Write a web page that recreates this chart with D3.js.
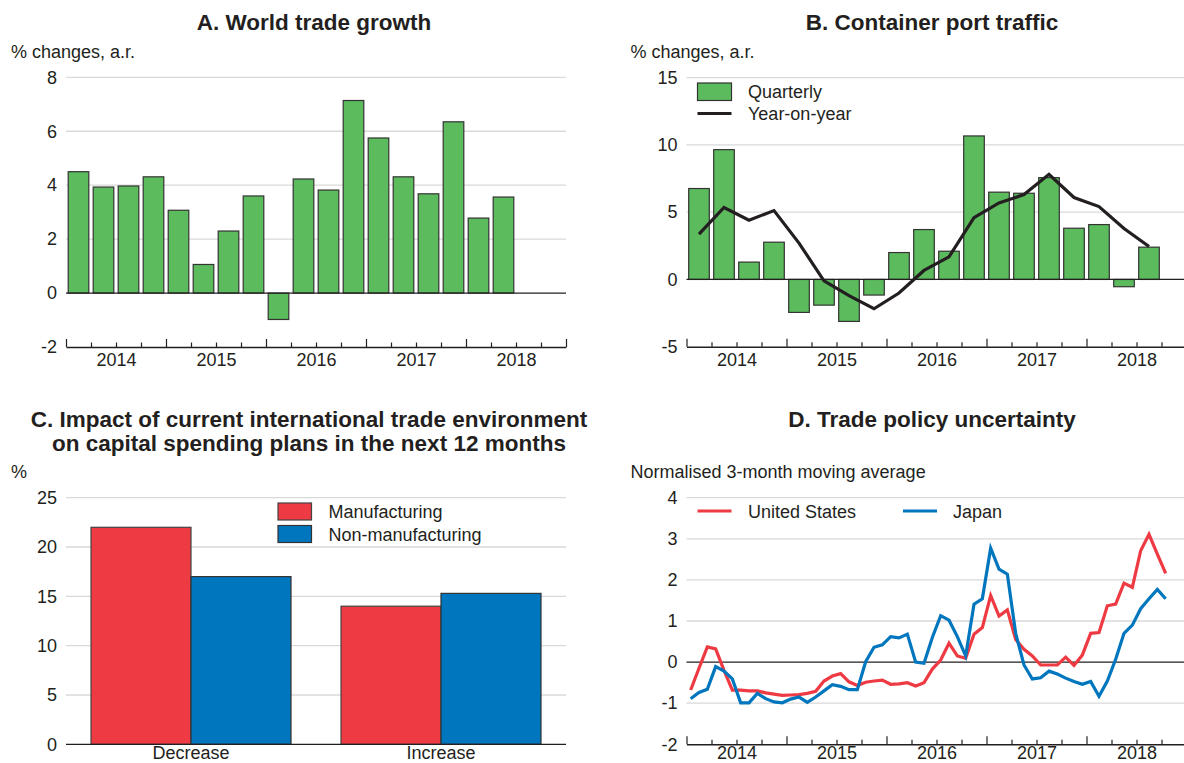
<!DOCTYPE html>
<html>
<head>
<meta charset="utf-8">
<script src="https://cdn.jsdelivr.net/npm/d3@7"></script>
<style>
  body { margin: 0; background: #fff; }
  svg { display: block; font-family: "Liberation Sans", Arial, Helvetica, sans-serif; }
  .title { font-weight: bold; font-size: 22.5px; fill: #231f20; }
  .lbl { font-size: 18px; fill: #231f20; }
  .tick text { font-size: 18px; fill: #231f20; }
</style>
</head>
<body>
<svg id="chart" width="1184" height="763"></svg>
<script>
// panel A - world trade growth, quarterly, from 2014Q1
var tradeGrowth = [4.50, 3.93, 3.97, 4.31, 3.07, 1.06, 2.30, 3.60, -0.98, 4.23, 3.82, 7.14, 5.75, 4.31, 3.68, 6.35, 2.78, 3.56];

// panel B - container port traffic, from 2014Q1
var portQuarterly = [6.76, 9.65, 1.29, 2.77, -2.45, -1.91, -3.12, -1.16, 2.00, 3.71, 2.10, 10.67, 6.49, 6.41, 7.57, 3.81, 4.08, -0.54, 2.40];
var portYoY = [3.37, 5.35, 4.41, 5.12, 2.70, -0.10, -1.21, -2.18, -1.01, 0.67, 1.68, 4.60, 5.69, 6.31, 7.82, 6.09, 5.42, 3.79, 2.45];

// panel C - survey
var spendCategories = ["Decrease", "Increase"];
var manufacturing = [22, 14];
var nonManufacturing = [17, 15.3];

// panel D - trade policy uncertainty, monthly from Jan 2014
var usUncertainty = [-0.68, -0.15, 0.37, 0.32, -0.20, -0.68, -0.68, -0.70, -0.70, -0.75, -0.78, -0.81,
  -0.80, -0.79, -0.76, -0.71, -0.46, -0.34, -0.28, -0.48, -0.57, -0.49, -0.46, -0.44,
  -0.54, -0.53, -0.50, -0.58, -0.50, -0.17, 0.05, 0.46, 0.15, 0.09, 0.68, 0.84,
  1.62, 1.12, 1.27, 0.55, 0.31, 0.15, -0.07, -0.07, -0.07, 0.12, -0.08, 0.17,
  0.70, 0.72, 1.37, 1.41, 1.92, 1.82, 2.71, 3.11, 2.63, 2.16];
var jpUncertainty = [-0.89, -0.74, -0.66, -0.11, -0.22, -0.41, -0.99, -0.99, -0.76, -0.89, -0.97, -0.99,
  -0.90, -0.85, -0.98, -0.85, -0.70, -0.55, -0.59, -0.67, -0.67, 0.01, 0.36, 0.42,
  0.62, 0.59, 0.68, 0.00, -0.03, 0.60, 1.13, 1.02, 0.62, 0.15, 1.41, 1.54,
  2.77, 2.26, 2.14, 0.70, -0.07, -0.41, -0.38, -0.22, -0.29, -0.39, -0.47, -0.54,
  -0.47, -0.83, -0.46, 0.07, 0.70, 0.90, 1.30, 1.54, 1.77, 1.54];

var years = [2014, 2015, 2016, 2017, 2018];
var yTicksA = [-2, 0, 2, 4, 6, 8];
var yTicksB = [-5, 0, 5, 10, 15];
var yTicksC = [0, 5, 10, 15, 20, 25];
var yTicksD = [-2, -1, 0, 1, 2, 3, 4];

var green = "#5cbb5c",
    red = "#ee3a43",
    blue = "#0076be",
    ink = "#231f20",
    grid = "#d9d9d9";

var svg = d3.select("#chart");

var addText = function(x, y, txt, cls, anchor) {
  return svg.append("text").attr("x", x).attr("y", y).attr("class", cls)
    .attr("text-anchor", anchor || "start").text(txt);
};

// gridlines + left labels
var drawYAxis = function(y, ticks, x0, x1, baseVal) {
  var g = svg.append("g");
  g.selectAll("line.grid").data(ticks.filter(function(t) { return t !== baseVal && t !== ticks[0]; }))
    .enter().append("line")
    .attr("x1", x0).attr("x2", x1)
    .attr("y1", function(d) { return y(d); }).attr("y2", function(d) { return y(d); })
    .attr("stroke", grid).attr("stroke-width", 1.3);
  var ax = svg.append("g").attr("transform", "translate(" + (x0 - 9) + ",0)")
    .call(d3.axisLeft(y).tickValues(ticks).tickSize(0).tickPadding(0).tickFormat(String));
  ax.select(".domain").remove();
};

// time axis with quarter ticks pointing up
var drawTimeAxis = function(x, yPos, pad) {
  var quarters = [];
  for (var t = 2014; t <= 2019.001; t += 0.25) quarters.push(t);
  var g = svg.append("g").attr("transform", "translate(0," + yPos + ")");
  g.call(d3.axisBottom(x).tickValues(quarters.filter(function(q) { return q % 1 !== 0; }))
      .tickSize(-4.5).tickSizeOuter(0).tickFormat(""));
  g.select(".domain").attr("stroke", ink).attr("stroke-width", 1.4);
  g.selectAll(".tick line").attr("stroke", ink).attr("stroke-width", 1.2);
  var g2 = svg.append("g").attr("transform", "translate(0," + yPos + ")");
  g2.call(d3.axisBottom(x).tickValues([2014, 2015, 2016, 2017, 2018, 2019])
      .tickSize(-8).tickFormat(""));
  g2.select(".domain").remove();
  g2.selectAll(".tick line").attr("stroke", ink).attr("stroke-width", 1.2);
  var g3 = svg.append("g").attr("transform", "translate(0," + yPos + ")");
  g3.call(d3.axisBottom(x).tickValues(years.map(function(yr) { return yr + 0.5; }))
      .tickSize(0).tickPadding(pad).tickFormat(function(d) { return Math.floor(d); }));
  g3.select(".domain").remove();
};

var zeroLine = function(x, y) {
  svg.append("line").attr("x1", x.range()[0]).attr("x2", x.range()[1])
    .attr("y1", y(0)).attr("y2", y(0)).attr("stroke", ink).attr("stroke-width", 1.3);
};

var drawBars = function(x, y, vals, fill) {
  var bw = 20.6;
  svg.append("g").selectAll("rect").data(vals).enter().append("rect")
    .attr("x", function(d, i) { return x(2014 + (i + 0.5) / 4) - bw / 2; })
    .attr("y", function(d) { return y(Math.max(0, d)); })
    .attr("width", bw)
    .attr("height", function(d) { return Math.abs(y(d) - y(0)); })
    .attr("fill", fill).attr("stroke", "#333").attr("stroke-width", 1.2);
};

// ---- A
var xA = d3.scaleLinear().domain([2014, 2019]).range([66, 566]);
var yA = d3.scaleLinear().domain([-2, 8]).range([347, 77.3]);
addText(314, 30, "A. World trade growth", "title", "middle");
addText(11, 58, "% changes, a.r.", "lbl");
drawYAxis(yA, yTicksA, 66, 566, 0);
drawBars(xA, yA, tradeGrowth, green);
zeroLine(xA, yA);
drawTimeAxis(xA, yA(-2), 6.5);

// ---- B
var xB = d3.scaleLinear().domain([2014, 2019]).range([686.5, 1186.5]);
var yB = d3.scaleLinear().domain([-5, 15]).range([346.7, 77.7]);
addText(932, 30, "B. Container port traffic", "title", "middle");
addText(630.5, 58, "% changes, a.r.", "lbl");
drawYAxis(yB, yTicksB, 686.5, 1186.5, 0);
drawBars(xB, yB, portQuarterly, green);
zeroLine(xB, yB);
svg.append("path").datum(portYoY)
  .attr("fill", "none").attr("stroke", ink).attr("stroke-width", 3.2)
  .attr("d", d3.line()
    .x(function(d, i) { return xB(2014 + (i + 0.5) / 4); })
    .y(function(d) { return yB(d); }));
drawTimeAxis(xB, yB(-5), 6.5);
svg.append("rect").attr("x", 697.5).attr("y", 83).attr("width", 34).attr("height", 17.5)
  .attr("fill", green).attr("stroke", "#333").attr("stroke-width", 1.2);
addText(748, 98, "Quarterly", "lbl");
svg.append("line").attr("x1", 697.5).attr("x2", 731.5).attr("y1", 113.5).attr("y2", 113.5)
  .attr("stroke", ink).attr("stroke-width", 3.2);
addText(748, 119.5, "Year-on-year", "lbl");

// ---- C
var xC = d3.scaleBand().domain(spendCategories).range([66, 566]).paddingInner(0.2).paddingOuter(0.1);
var xSub = d3.scaleBand().domain(["m", "n"]).range([0, xC.bandwidth()]);
var yC = d3.scaleLinear().domain([0, 25]).range([744.3, 497.7]);
addText(309, 427, "C. Impact of current international trade environment", "title", "middle");
addText(309, 450.5, "on capital spending plans in the next 12 months", "title", "middle");
addText(11, 478, "%", "lbl");
drawYAxis(yC, yTicksC, 66, 566, -1);
var groups = svg.append("g").selectAll("g").data(spendCategories).enter().append("g")
  .attr("transform", function(d) { return "translate(" + xC(d) + ",0)"; });
groups.append("rect")
  .attr("x", xSub("m")).attr("width", xSub.bandwidth())
  .attr("y", function(d, i) { return yC(manufacturing[i]); })
  .attr("height", function(d, i) { return yC(0) - yC(manufacturing[i]); })
  .attr("fill", red).attr("stroke", "#444").attr("stroke-width", 1.2);
groups.append("rect")
  .attr("x", xSub("n")).attr("width", xSub.bandwidth())
  .attr("y", function(d, i) { return yC(nonManufacturing[i]); })
  .attr("height", function(d, i) { return yC(0) - yC(nonManufacturing[i]); })
  .attr("fill", blue).attr("stroke", "#333").attr("stroke-width", 1.2);
zeroLine(d3.scaleLinear().range([66, 566]), yC);
var axC = svg.append("g").attr("transform", "translate(0," + yC(0) + ")")
  .call(d3.axisBottom(xC).tickSize(0).tickPadding(1.5));
axC.select(".domain").remove();
svg.append("rect").attr("x", 278).attr("y", 503).attr("width", 33.5).attr("height", 17)
  .attr("fill", red).attr("stroke", "#444").attr("stroke-width", 1.2);
svg.append("rect").attr("x", 278).attr("y", 525.5).attr("width", 33.5).attr("height", 17)
  .attr("fill", blue).attr("stroke", "#333").attr("stroke-width", 1.2);
addText(328.5, 518, "Manufacturing", "lbl");
addText(328.5, 540.5, "Non-manufacturing", "lbl");

// ---- D
var xD = d3.scaleLinear().domain([2014, 2019]).range([686.5, 1186.5]);
var yD = d3.scaleLinear().domain([-2, 4]).range([744.3, 497.7]);
addText(932, 427, "D. Trade policy uncertainty", "title", "middle");
addText(630.5, 478, "Normalised 3-month moving average", "lbl");
drawYAxis(yD, yTicksD, 686.5, 1186.5, 0);
zeroLine(xD, yD);
var monthLine = d3.line()
  .x(function(d, i) { return xD(2014 + (i + 0.5) / 12); })
  .y(function(d) { return yD(d); });
svg.append("path").datum(usUncertainty).attr("fill", "none").attr("stroke", red)
  .attr("stroke-width", 3.2).attr("d", monthLine);
svg.append("path").datum(jpUncertainty).attr("fill", "none").attr("stroke", blue)
  .attr("stroke-width", 3.2).attr("d", monthLine);
drawTimeAxis(xD, yD(-2), 1.5);
svg.append("line").attr("x1", 697.5).attr("x2", 731.5).attr("y1", 511).attr("y2", 511)
  .attr("stroke", red).attr("stroke-width", 3.2);
addText(748, 517.5, "United States", "lbl");
svg.append("line").attr("x1", 903).attr("x2", 937).attr("y1", 511).attr("y2", 511)
  .attr("stroke", blue).attr("stroke-width", 3.2);
addText(953, 517.5, "Japan", "lbl");
</script>
</body>
</html>
